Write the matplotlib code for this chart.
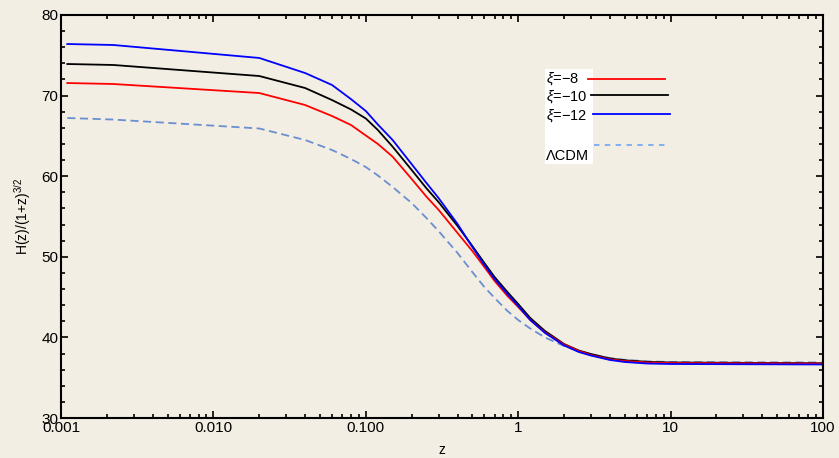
import matplotlib
matplotlib.use('Agg')
import matplotlib.pyplot as plt
from matplotlib.ticker import FixedLocator, LogLocator, MultipleLocator, NullFormatter
from matplotlib.lines import Line2D
from matplotlib.patches import Rectangle

plt.rcParams['font.family'] = ['Liberation Sans', 'DejaVu Sans']
plt.rcParams['mathtext.fontset'] = 'custom'
plt.rcParams['mathtext.rm'] = 'Liberation Sans'
plt.rcParams['mathtext.it'] = 'Liberation Sans:italic'

# redshift sample points
z = [0.0011, 0.0022, 0.02, 0.04, 0.06, 0.08, 0.1, 0.12, 0.15, 0.2, 0.25, 0.3,
     0.4, 0.5, 0.6, 0.7, 0.85, 1.0, 1.2, 1.5, 2.0, 2.5, 3.0, 4.0, 5.0, 7.0,
     10.0, 100.0]

# H(z)/(1+z)^(3/2) for each model
h_xi8 = [71.56, 71.44, 70.32, 68.83, 67.47, 66.35, 65.05, 64.00, 62.42, 59.65,
         57.46, 55.84, 52.95, 50.72, 48.73, 47.00, 45.14, 43.77, 42.16, 40.61,
         39.12, 38.31, 37.82, 37.28, 37.07, 36.89, 36.82, 36.76]
h_xi10 = [73.92, 73.80, 72.43, 70.94, 69.45, 68.28, 67.16, 65.73, 63.66, 60.77,
          58.50, 56.80, 53.82, 51.34, 49.23, 47.49, 45.63, 44.14, 42.41, 40.79,
          39.18, 38.37, 37.94, 37.38, 37.16, 36.97, 36.89, 36.79]
h_xi12 = [76.40, 76.28, 74.67, 72.80, 71.32, 69.56, 68.09, 66.41, 64.49, 61.49,
          59.16, 57.30, 54.07, 51.22, 48.98, 47.25, 45.38, 43.90, 42.16, 40.55,
          39.00, 38.19, 37.75, 37.20, 36.95, 36.76, 36.70, 36.64]
h_lcdm = [67.22, 67.03, 65.92, 64.49, 63.25, 62.13, 61.14, 60.09, 58.66, 56.67,
          54.81, 53.20, 50.47, 48.11, 46.25, 44.89, 43.28, 42.16, 41.10, 39.99,
          38.93, 38.31, 37.88, 37.44, 37.22, 37.03, 36.95, 36.89]

legend_labels = ['$\\xi$=\u22128', '$\\xi$=\u221210', '$\\xi$=\u221212', '\u039bCDM']
x_ticks = [0.001, 0.01, 0.1, 1, 10, 100]
x_ticklabels = ['0.001', '0.010', '0.100', '1', '10', '100']

bg = '#f3eee3'
c_red, c_black, c_blue, c_lcdm = '#ff0000', '#000000', '#0000ff', '#6a8fd0'

fig = plt.figure(figsize=(8.39, 4.58), dpi=100, facecolor=bg)
ax = fig.add_axes([61 / 839, 1 - 418 / 458, 762 / 839, 403 / 458], facecolor=bg)

ax.plot(z, h_lcdm, color=c_lcdm, lw=1.3, ls=(0, (4.5, 2.5)))
ax.plot(z, h_xi10, color=c_black, lw=1.3)
ax.plot(z, h_xi8, color=c_red, lw=1.3)
ax.plot(z, h_xi12, color=c_blue, lw=1.3)

ax.set_xscale('log')
ax.set_xlim(0.001, 100)
ax.set_ylim(30, 80)
ax.xaxis.set_major_locator(FixedLocator(x_ticks))
ax.set_xticklabels(x_ticklabels)
ax.xaxis.set_minor_locator(LogLocator(base=10, subs=range(2, 10)))
ax.xaxis.set_minor_formatter(NullFormatter())
ax.yaxis.set_major_locator(MultipleLocator(10))
ax.yaxis.set_minor_locator(MultipleLocator(2))
ax.tick_params(which='both', direction='in', top=True, right=True,
               labelsize=11, width=1.2, pad=2)
ax.tick_params(which='major', length=5)
ax.tick_params(which='minor', length=3)
for s in ax.spines.values():
    s.set_linewidth(1.5)

ax.set_xlabel('z', fontsize=10, labelpad=6)
ax.set_ylabel('H(z)/(1+z)$^{3/2}$', fontsize=10, labelpad=6)

# Mathematica style legend box
fig.patches.append(Rectangle((545 / 839, 1 - 164 / 458), 48 / 839, 95 / 458,
                             transform=fig.transFigure, facecolor='white',
                             edgecolor='none', zorder=5))
label_y = [79, 96.5, 116, 156]
line_spans = [(588, 665, 79.3, c_red, '-'), (591, 668, 94.7, c_black, '-'),
              (593, 670, 113.7, c_blue, '-'), (594, 668, 145.3, '#7aaaf0', (0, (3, 3)))]
for lab, ly in zip(legend_labels, label_y):
    fig.text(546 / 839, 1 - ly / 458, lab, fontsize=10.5, va='center', ha='left', zorder=6)
for x0, x1, ly, col, ls in line_spans:
    fig.add_artist(Line2D([x0 / 839, x1 / 839], [1 - ly / 458, 1 - ly / 458],
                          transform=fig.transFigure, color=col, lw=1.3, ls=ls, zorder=6))

fig.savefig('out.png', dpi=100, facecolor=bg)
